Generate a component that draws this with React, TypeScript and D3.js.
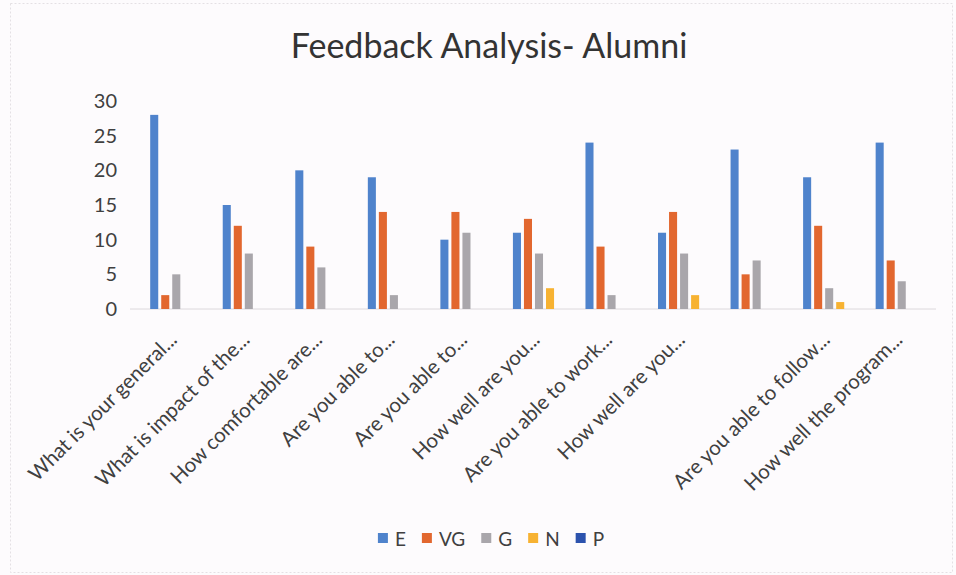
import React, { useEffect, useRef } from "react";
import * as d3 from "d3";

// Clustered column chart of alumni feedback answers, drawn with D3.
const questions = [
  "What is your general...",
  "What is impact of the...",
  "How comfortable are...",
  "Are you able to...",
  "Are you able to...",
  "How well are you...",
  "Are you able to work...",
  "How well are you...",
  "",
  "Are you able to follow...",
  "How well the program...",
];
const seriesNames = ["E", "VG", "G", "N", "P"];
const E = [28, 15, 20, 19, 10, 11, 24, 11, 23, 19, 24];
const VG = [2, 12, 9, 14, 14, 13, 9, 14, 5, 12, 7];
const G = [5, 8, 6, 2, 11, 8, 2, 8, 7, 3, 4];
const N = [0, 0, 0, 0, 0, 3, 0, 2, 0, 1, 0];
const P = [0, 0, 0, 0, 0, 0, 0, 0, 0, 0, 0];
const yTicks = [0, 5, 10, 15, 20, 25, 30];
const colors = ["#4f83cc", "#e2672f", "#a9a6ab", "#f7b232", "#2c52ad"];

export default function App() {
  const ref = useRef<SVGSVGElement>(null);

  useEffect(() => {
    const svg = d3.select(ref.current);
    svg.selectAll("*").remove();
    const W = 956;
    const H = 575;
    const font = "Lato, 'Open Sans', sans-serif";
    const values = [E, VG, G, N, P];

    svg.append("rect").attr("width", W).attr("height", H).attr("fill", "#fdfbfd");
    svg
      .append("rect")
      .attr("x", 10.5)
      .attr("y", 3.5)
      .attr("width", W - 14)
      .attr("height", H - 6)
      .attr("fill", "none")
      .attr("stroke", "#e4e0e4")
      .attr("stroke-dasharray", "2,2");

    svg
      .append("text")
      .attr("x", 489)
      .attr("y", 58)
      .attr("text-anchor", "middle")
      .attr("font-family", font)
      .attr("font-size", 34)
      .attr("fill", "#333")
      .text("Feedback Analysis- Alumni");

    const y = d3.scaleLinear().domain([0, 30]).range([309, 101]);
    const x0 = d3
      .scaleBand<number>()
      .domain(d3.range(questions.length))
      .range([140, 938])
      .paddingInner(0.24)
      .paddingOuter(0.12);
    const x1 = d3
      .scaleBand<string>()
      .domain(seriesNames)
      .range([0, x0.bandwidth()])
      .paddingInner(0.27)
      .paddingOuter(0.135);

    // baseline
    svg
      .append("line")
      .attr("x1", 130)
      .attr("x2", 936)
      .attr("y1", y(0))
      .attr("y2", y(0))
      .attr("stroke", "#dcd8dc");

    // y labels
    svg
      .append("g")
      .selectAll("text")
      .data(yTicks)
      .join("text")
      .attr("x", 117)
      .attr("y", (d) => y(d) + 7)
      .attr("text-anchor", "end")
      .attr("font-family", font)
      .attr("font-size", 20)
      .attr("fill", "#404040")
      .text((d) => d);

    // bars
    seriesNames.forEach((s, si) => {
      svg
        .append("g")
        .selectAll("rect")
        .data(values[si])
        .join("rect")
        .attr("x", (_, i) => (x0(i) ?? 0) + (x1(s) ?? 0))
        .attr("y", (d) => y(d))
        .attr("width", x1.bandwidth())
        .attr("height", (d) => y(0) - y(d))
        .attr("fill", colors[si]);
    });

    // x labels
    svg
      .append("g")
      .selectAll("text")
      .data(questions)
      .join("text")
      .attr("transform", (_, i) => {
        const cx = (x0(i) ?? 0) + x0.bandwidth() / 2;
        return `translate(${cx + 2},${y(0) + 32}) rotate(-45)`;
      })
      .attr("text-anchor", "end")
      .attr("font-family", font)
      .attr("font-size", 20.5)
      .attr("fill", "#404040")
      .text((d) => d);

    // legend
    const leg = svg.append("g");
    let lx = 0;
    seriesNames.forEach((s, si) => {
      leg
        .append("rect")
        .attr("x", lx)
        .attr("y", 533)
        .attr("width", 10)
        .attr("height", 10)
        .attr("fill", colors[si]);
      const t = leg
        .append("text")
        .attr("x", lx + 17)
        .attr("y", 546)
        .attr("font-family", font)
        .attr("font-size", 19)
        .attr("fill", "#404040")
        .text(s);
      const tw = (t.node() as SVGTextElement).getComputedTextLength();
      lx += 17 + tw + 16;
    });
    const total = lx - 16;
    leg.attr("transform", `translate(${491 - total / 2},0)`);
  }, []);

  return (
    <svg
      ref={ref}
      width={956}
      height={575}
      style={{ position: "absolute", left: 0, top: 0, display: "block" }}
    />
  );
}
